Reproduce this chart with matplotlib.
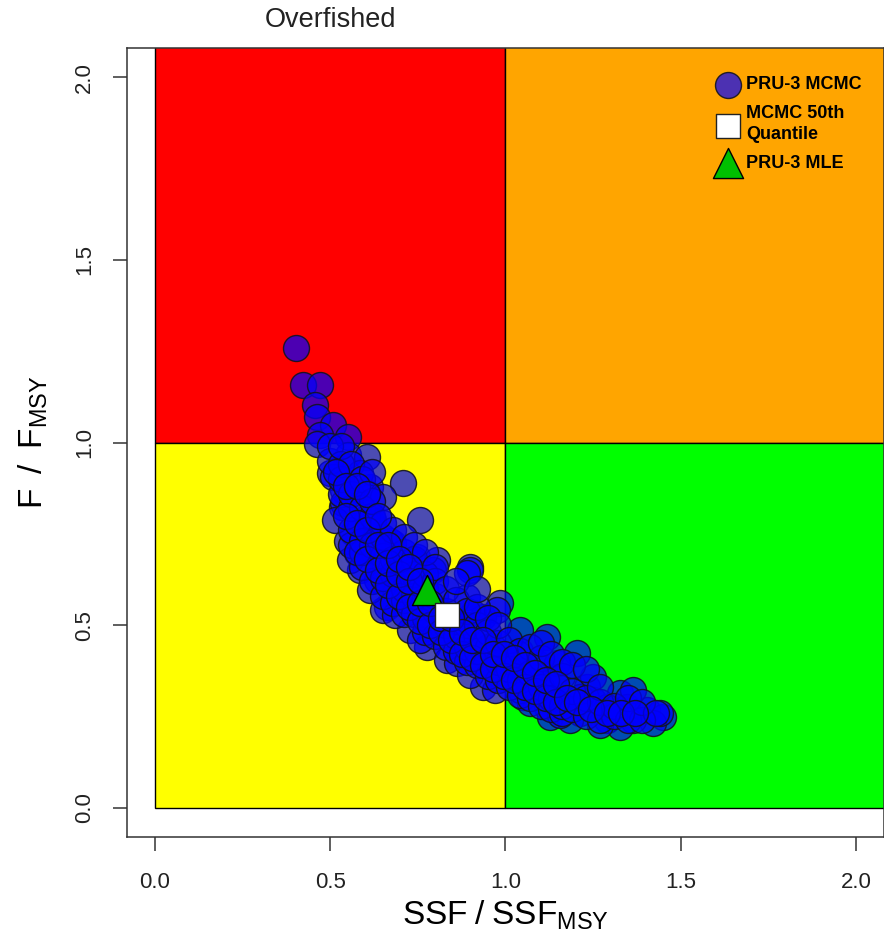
import numpy as np
import matplotlib
matplotlib.use("Agg")
import matplotlib.pyplot as plt
from matplotlib.patches import Rectangle

plt.rcParams['font.family'] = ['Liberation Sans', 'DejaVu Sans']
plt.rcParams['mathtext.fontset'] = 'custom'
plt.rcParams['mathtext.rm'] = 'Liberation Sans'
plt.rcParams['mathtext.it'] = 'Liberation Sans:italic'
plt.rcParams['mathtext.default'] = 'rm'

# MCMC draws (SSF/SSFmsy, F/Fmsy)
# outer points of the cloud
edge_ssf = [0.401, 0.423, 0.471, 0.456, 0.461, 0.509, 0.471, 0.552, 0.461, 0.552,
            0.604, 0.499, 0.708, 0.537, 0.613, 0.533, 0.613, 0.756, 0.566, 0.680,
            0.747, 0.804, 0.899, 0.575, 0.509, 0.604, 0.537, 0.623, 0.547, 0.670,
            0.899, 0.585, 0.633, 0.680, 0.661, 0.728, 0.775, 0.832, 0.937, 0.984,
            0.889, 0.794, 0.604, 0.604, 0.651, 0.585, 0.737, 0.889, 0.699, 0.651,
            0.908, 0.975, 0.880, 0.861, 0.937, 0.965, 1.041, 1.118, 1.203, 1.089,
            1.013, 1.051, 1.137, 1.118, 1.232, 1.251, 1.327, 1.346, 1.403, 1.450,
            1.422, 1.289, 1.213, 1.365, 1.251, 1.365, 1.441, 1.327, 1.127, 1.184,
            1.070, 1.041, 1.289, 1.213, 1.146, 1.032, 0.514, 0.556, 0.613, 0.685,
            0.756, 0.899, 0.970, 1.155, 1.270]
edge_f = [1.260, 1.157, 1.157, 1.102, 1.071, 1.048, 1.021, 1.016, 0.995, 0.966,
          0.961, 0.916, 0.888, 0.870, 0.879, 0.824, 0.788, 0.788, 0.751, 0.724,
          0.687, 0.678, 0.660, 0.697, 0.906, 0.861, 0.834, 0.788, 0.731, 0.731,
          0.651, 0.651, 0.624, 0.605, 0.551, 0.487, 0.441, 0.405, 0.523, 0.560,
          0.578, 0.651, 0.731, 0.797, 0.852, 0.916, 0.676, 0.642, 0.578, 0.541,
          0.532, 0.541, 0.487, 0.396, 0.332, 0.441, 0.487, 0.468, 0.423, 0.396,
          0.377, 0.304, 0.359, 0.277, 0.332, 0.296, 0.313, 0.277, 0.268, 0.249,
          0.231, 0.240, 0.259, 0.240, 0.359, 0.322, 0.259, 0.222, 0.249, 0.240,
          0.286, 0.322, 0.277, 0.304, 0.396, 0.423, 0.788, 0.678, 0.596, 0.528,
          0.459, 0.364, 0.322, 0.254, 0.227]

# dense core of the cloud
core_ssf = [0.500, 0.500, 0.530, 0.530, 0.530, 0.530, 0.560, 0.560, 0.560, 0.560,
            0.560, 0.590, 0.590, 0.590, 0.590, 0.590, 0.620, 0.620, 0.620, 0.620,
            0.620, 0.650, 0.650, 0.650, 0.650, 0.650, 0.680, 0.680, 0.680, 0.680,
            0.710, 0.710, 0.710, 0.710, 0.710, 0.740, 0.740, 0.740, 0.740, 0.740,
            0.770, 0.770, 0.770, 0.770, 0.770, 0.800, 0.800, 0.800, 0.800, 0.800,
            0.830, 0.830, 0.830, 0.830, 0.860, 0.860, 0.860, 0.860, 0.860, 0.890,
            0.890, 0.890, 0.890, 0.920, 0.920, 0.920, 0.920, 0.920, 0.950, 0.950,
            0.950, 0.950, 0.980, 0.980, 0.980, 0.980, 1.010, 1.010, 1.010, 1.040,
            1.040, 1.040, 1.070, 1.070, 1.070, 1.100, 1.100, 1.100, 1.100, 1.130,
            1.130, 1.130, 1.160, 1.160, 1.160, 1.160, 1.190, 1.190, 1.190, 1.230,
            1.230, 1.230, 1.270, 1.270, 1.270, 1.310, 1.310, 1.350, 1.350, 1.390,
            1.390, 1.430]
core_f = [0.950, 0.990, 0.860, 0.900, 0.940, 0.990, 0.720, 0.760, 0.820, 0.860,
          0.940, 0.660, 0.700, 0.730, 0.820, 0.900, 0.620, 0.720, 0.800, 0.840,
          0.920, 0.580, 0.630, 0.690, 0.740, 0.780, 0.560, 0.640, 0.680, 0.760,
          0.530, 0.570, 0.600, 0.700, 0.740, 0.530, 0.580, 0.640, 0.680, 0.720,
          0.480, 0.520, 0.600, 0.640, 0.700, 0.470, 0.540, 0.580, 0.620, 0.660,
          0.440, 0.500, 0.540, 0.600, 0.430, 0.470, 0.510, 0.570, 0.620, 0.400,
          0.440, 0.500, 0.540, 0.390, 0.430, 0.500, 0.550, 0.600, 0.360, 0.440,
          0.480, 0.520, 0.350, 0.400, 0.450, 0.500, 0.330, 0.380, 0.460, 0.310,
          0.350, 0.430, 0.300, 0.370, 0.440, 0.280, 0.330, 0.410, 0.450, 0.270,
          0.300, 0.420, 0.260, 0.280, 0.360, 0.400, 0.270, 0.320, 0.390, 0.250,
          0.300, 0.380, 0.240, 0.290, 0.330, 0.250, 0.280, 0.240, 0.300, 0.240,
          0.290, 0.260]

# extra draws filling the middle of the band
mid_ssf = [0.515, 0.545, 0.545, 0.575, 0.575, 0.575, 0.605, 0.605, 0.605, 0.635,
           0.635, 0.635, 0.665, 0.665, 0.665, 0.695, 0.695, 0.695, 0.725, 0.725,
           0.725, 0.755, 0.755, 0.755, 0.785, 0.785, 0.815, 0.815, 0.845, 0.845,
           0.875, 0.875, 0.905, 0.905, 0.935, 0.935, 0.965, 0.965, 0.995, 0.995,
           1.025, 1.025, 1.055, 1.055, 1.085, 1.085, 1.115, 1.115, 1.145, 1.145,
           1.175, 1.205, 1.245, 1.290, 1.330, 1.370]
mid_f = [0.920, 0.880, 0.800, 0.780, 0.700, 0.880, 0.680, 0.760, 0.860, 0.650,
         0.720, 0.800, 0.610, 0.670, 0.720, 0.580, 0.640, 0.680, 0.550, 0.620,
         0.660, 0.510, 0.560, 0.620, 0.500, 0.560, 0.480, 0.520, 0.460, 0.520,
         0.420, 0.480, 0.410, 0.460, 0.390, 0.460, 0.380, 0.420, 0.360, 0.420,
         0.350, 0.410, 0.330, 0.390, 0.320, 0.370, 0.300, 0.350, 0.290, 0.340,
         0.300, 0.290, 0.270, 0.260, 0.260, 0.260]

mcmc_ssf = edge_ssf + core_ssf + mid_ssf
mcmc_f = edge_f + core_f + mid_f

median_ssf, median_f = [0.832], [0.527]
mle_ssf, mle_f = [0.775], [0.595]

labels = ['PRU-3 MCMC', 'MCMC 50th\nQuantile', 'PRU-3 MLE']

fig = plt.figure(figsize=(8.84, 9.36), dpi=100)
ax = fig.add_axes([127 / 884, 99 / 936, 757 / 884, 789 / 936])
ax.set_xlim(-0.08, 2.08)
ax.set_ylim(-0.08, 2.08)

# stock status quadrants
ax.add_patch(Rectangle((0, 1), 1, 3, facecolor='#FF0000', edgecolor='black', lw=1, zorder=0))
ax.add_patch(Rectangle((1, 1), 3, 3, facecolor='#FFA500', edgecolor='black', lw=1, zorder=0))
ax.add_patch(Rectangle((0, 0), 1, 1, facecolor='#FFFF00', edgecolor='black', lw=1, zorder=0))
ax.add_patch(Rectangle((1, 0), 3, 1, facecolor='#00FF00', edgecolor='black', lw=1, zorder=0))

sc = ax.scatter(mcmc_ssf, mcmc_f, s=350, facecolor=(0, 0, 1, 0.7),
                edgecolor=(0.08, 0.08, 0.12, 0.9), linewidth=1.0, zorder=2)
tri = ax.scatter(mle_ssf, mle_f, s=470, marker='^', facecolor='#00C000',
                 edgecolor='black', linewidth=1.0, zorder=3)
sq = ax.scatter(median_ssf, median_f, s=280, marker='s', facecolor='white',
                edgecolor='#222222', linewidth=1.0, zorder=4)

leg = ax.legend([sc, sq, tri], labels, loc='upper left', bbox_to_anchor=(0.7816, 0.964),
                frameon=False, scatterpoints=1, handlelength=1.0, handletextpad=0.5,
                borderpad=0, borderaxespad=0, labelspacing=0.65,
                prop={'weight': 'bold', 'size': 13})
for t in leg.get_texts():
    t.set_linespacing(1.3)

ticks = [0.0, 0.5, 1.0, 1.5, 2.0]
ax.set_xticks(ticks)
ax.set_xticklabels(['%.1f' % t for t in ticks])
ax.set_yticks(ticks)
ax.set_yticklabels(['%.1f' % t for t in ticks], rotation=90, va='center')
ax.tick_params(axis='x', length=10, width=1.1, color='#333333', pad=15,
               labelsize=16, labelcolor='#222222')
ax.tick_params(axis='y', length=10, width=1.1, color='#333333', pad=13,
               labelsize=16, labelcolor='#222222')
for sp in ax.spines.values():
    sp.set_color('#333333')
    sp.set_linewidth(1.1)

ax.set_xlabel(r'$SSF\;/\;SSF_{MSY}$', fontsize=24, va='center')
ax.xaxis.set_label_coords(0.5, -0.099)
ax.set_ylabel(r'$F\;\;/\;\;F_{MSY}$', fontsize=24, va='center')
ax.yaxis.set_label_coords(-0.124, 0.5)

ax.text(0.5, 1.0355, 'Overfished', transform=ax.get_xaxis_transform(),
        ha='center', va='center', fontsize=19.5, color='#222222')

fig.savefig('out.png', dpi=100)
